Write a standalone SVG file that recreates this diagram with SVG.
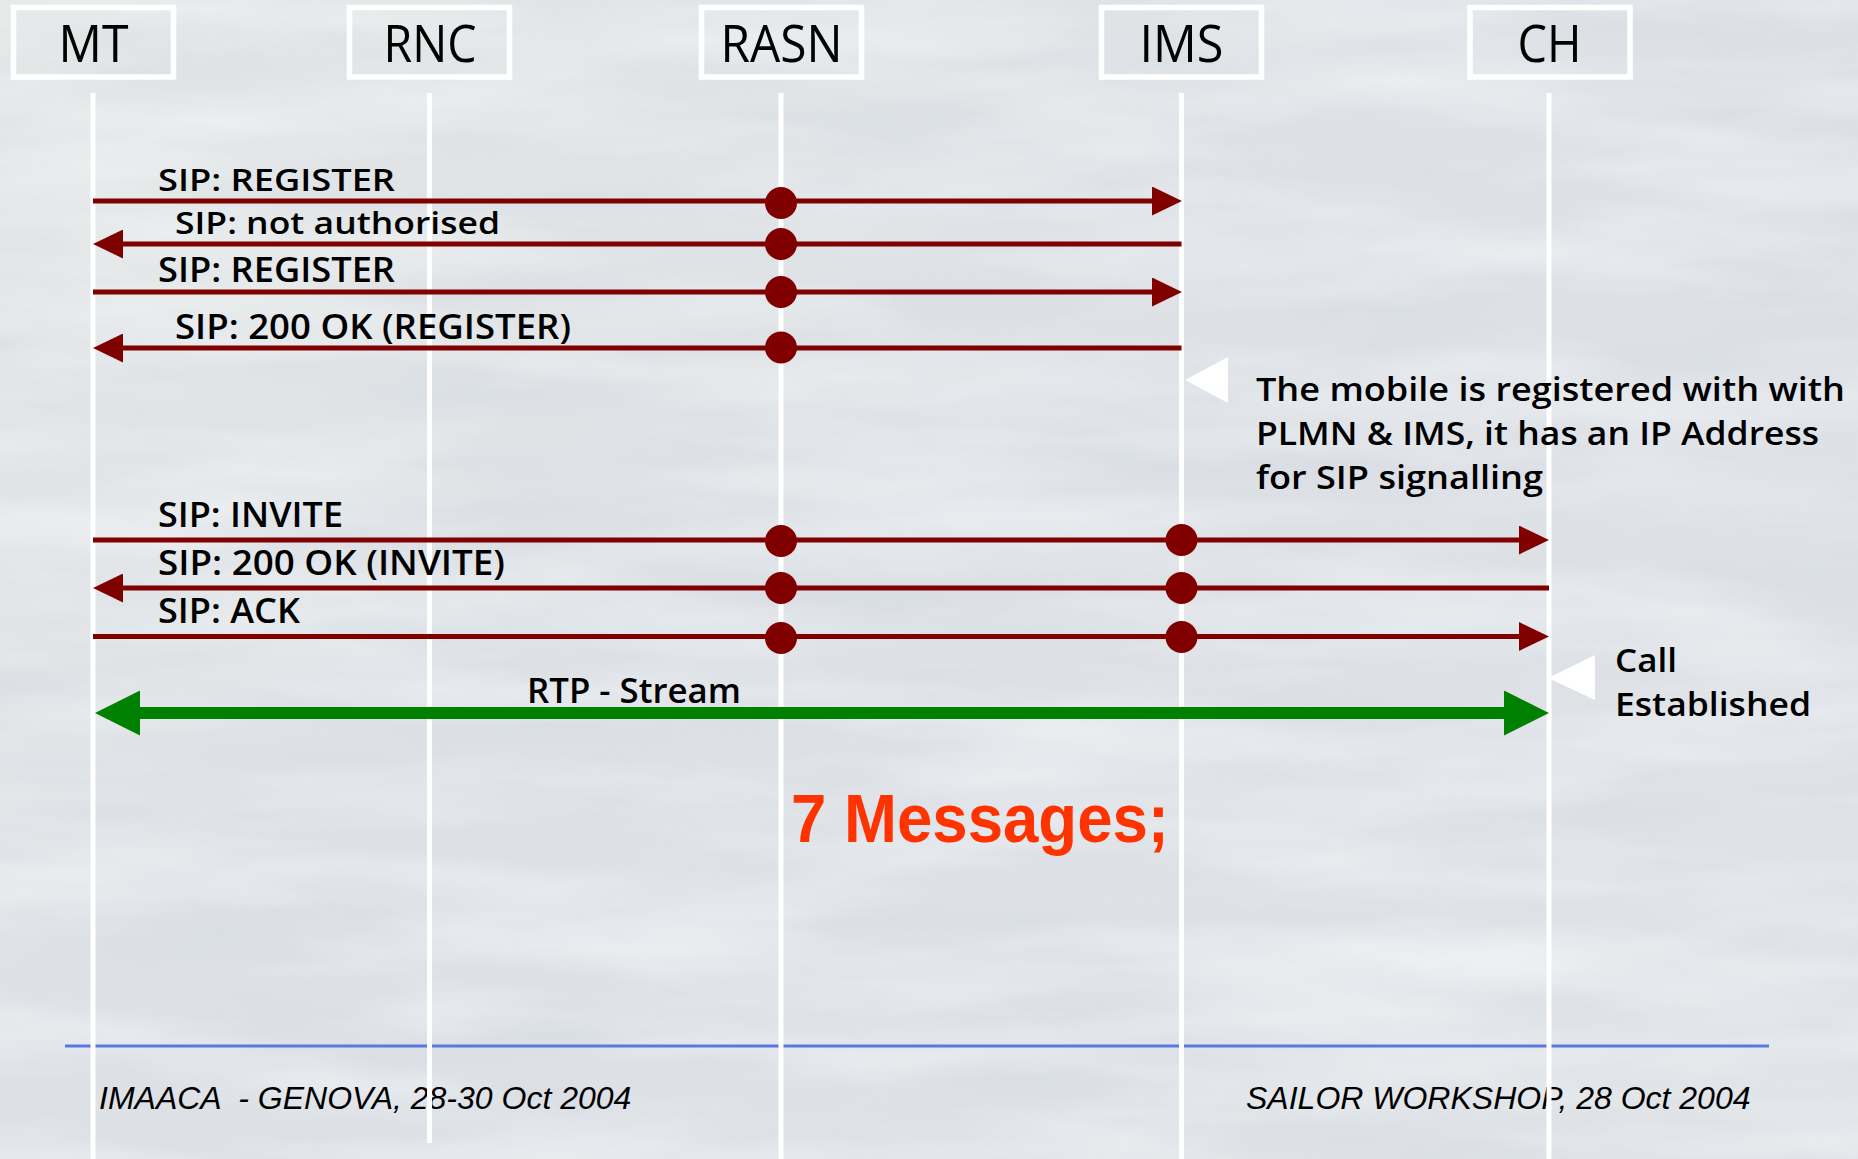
<svg xmlns="http://www.w3.org/2000/svg" width="1858" height="1159" viewBox="0 0 1858 1159">
  <style>
    .box { fill: none; stroke: #ffffff; stroke-width: 5.5; }
    .hdr { font-family: "Open Sans", "Noto Sans", "DejaVu Sans", sans-serif; font-size: 52px; fill: #000000; text-anchor: middle; }
    .life { stroke: #ffffff; stroke-width: 5; }
    .msg { stroke: #800000; stroke-width: 5; fill: none; marker-end: url(#redHead); }
    .dot { fill: #800000; }
    .rtp { stroke: #008000; stroke-width: 12; fill: none; marker-start: url(#greenHead); marker-end: url(#greenHead); }
    .lbl { font-family: "Open Sans", "Noto Sans", "DejaVu Sans", sans-serif; font-weight: 600; font-size: 34px; fill: #000000; }
    .lbl.tight { font-size: 31px; }
    .note { font-family: "Open Sans", "Noto Sans", "DejaVu Sans", sans-serif; font-weight: 600; font-size: 32px; fill: #000000; }
    .ptr { fill: #ffffff; }
    .foot { font-family: "Liberation Sans", Arial, sans-serif; font-style: italic; font-size: 32px; fill: #000000; }
    .count { font-family: "Liberation Sans", Arial, sans-serif; font-weight: bold; font-size: 68px; fill: #ff3300; }
  </style>
  <defs>
    <marker id="redHead" markerUnits="userSpaceOnUse" markerWidth="30" markerHeight="29" refX="5" refY="14.5" orient="auto">
      <path d="M0,0 L30,14.5 L0,29 Z" fill="#800000"/>
    </marker>
    <marker id="greenHead" markerUnits="userSpaceOnUse" markerWidth="45" markerHeight="45" refX="5" refY="22.5" orient="auto-start-reverse">
      <path d="M0,0 L45,22.5 L0,45 Z" fill="#008000"/>
    </marker>
    <linearGradient id="bgGrad" x1="0" y1="0" x2="1" y2="1">
      <stop offset="0" stop-color="#e2e6e6"/>
      <stop offset="0.5" stop-color="#dde1e6"/>
      <stop offset="1" stop-color="#dfe3e7"/>
    </linearGradient>
    <filter id="cloudLight" x="0" y="0" width="100%" height="100%">
      <feTurbulence type="fractalNoise" baseFrequency="0.0025 0.014" numOctaves="4" seed="7"/>
      <feColorMatrix type="matrix" values="0 0 0 0 1  0 0 0 0 1  0 0 0 0 1  1.3 0 0 0 -0.5"/>
    </filter>
    <filter id="cloudDark" x="0" y="0" width="100%" height="100%">
      <feTurbulence type="fractalNoise" baseFrequency="0.003 0.018" numOctaves="4" seed="23"/>
      <feColorMatrix type="matrix" values="0 0 0 0 0.55  0 0 0 0 0.6  0 0 0 0 0.7  1.1 0 0 0 -0.5"/>
    </filter>
  </defs>

  <!-- background with soft cloudy texture -->
  <g id="background">
    <rect x="0" y="0" width="1858" height="1159" fill="url(#bgGrad)"/>
    <rect x="0" y="0" width="1858" height="1159" filter="url(#cloudDark)" opacity="0.35"/>
    <rect x="0" y="0" width="1858" height="1159" filter="url(#cloudLight)" opacity="0.7"/>
  </g>

  <!-- footer -->
  <g id="footer">
    <line x1="65" y1="1046" x2="1769" y2="1046" stroke="#5a78e0" stroke-width="3"/>
    <text class="foot" x="99" y="1109" xml:space="preserve">IMAACA  - GENOVA, 28-30 Oct 2004</text>
    <text class="foot" x="1246" y="1109">SAILOR WORKSHOP, 28 Oct 2004</text>
  </g>

  <!-- lifelines -->
  <g id="lifelines">
    <line class="life" x1="93" y1="93" x2="93" y2="1159"/>
    <line class="life" x1="429.5" y1="93" x2="429.5" y2="1143"/>
    <line class="life" x1="781" y1="93" x2="781" y2="1159"/>
    <line class="life" x1="1181.5" y1="93" x2="1181.5" y2="1159"/>
    <line class="life" x1="1549" y1="93" x2="1549" y2="1159"/>
  </g>

  <!-- participants -->
  <g id="node-mt">
    <rect class="box" x="13.5" y="7.5" width="160" height="69.5"/>
    <text class="hdr" x="93.5" y="62" textLength="70" lengthAdjust="spacingAndGlyphs">MT</text>
  </g>
  <g id="node-rnc">
    <rect class="box" x="349.5" y="7.5" width="160" height="69.5"/>
    <text class="hdr" x="430" y="62" textLength="93" lengthAdjust="spacingAndGlyphs">RNC</text>
  </g>
  <g id="node-rasn">
    <rect class="box" x="701.5" y="7.5" width="160" height="69.5"/>
    <text class="hdr" x="781.5" y="62" textLength="122" lengthAdjust="spacingAndGlyphs">RASN</text>
  </g>
  <g id="node-ims">
    <rect class="box" x="1101.5" y="7.5" width="160" height="69.5"/>
    <text class="hdr" x="1181.5" y="62" textLength="84" lengthAdjust="spacingAndGlyphs">IMS</text>
  </g>
  <g id="node-ch">
    <rect class="box" x="1470" y="7.5" width="160" height="69.5"/>
    <text class="hdr" x="1549.5" y="62" textLength="64" lengthAdjust="spacingAndGlyphs">CH</text>
  </g>

  <!-- message arrows -->
  <g id="connectors">
    <line class="msg" x1="93" y1="201" x2="1157" y2="201"/>
    <line class="msg" x1="1181.5" y1="244" x2="118" y2="244"/>
    <line class="msg" x1="93" y1="292" x2="1157" y2="292"/>
    <line class="msg" x1="1181.5" y1="348" x2="118" y2="348"/>
    <line class="msg" x1="93" y1="540" x2="1524" y2="540"/>
    <line class="msg" x1="1549" y1="588" x2="118" y2="588"/>
    <line class="msg" x1="93" y1="636.5" x2="1524" y2="636.5"/>
    <line class="rtp" x1="135" y1="713" x2="1509" y2="713"/>

    <circle class="dot" cx="781" cy="203" r="16"/>
    <circle class="dot" cx="781" cy="244" r="16"/>
    <circle class="dot" cx="781" cy="292" r="16"/>
    <circle class="dot" cx="781" cy="347.5" r="16"/>
    <circle class="dot" cx="781" cy="541" r="16"/>
    <circle class="dot" cx="1181.5" cy="540" r="16"/>
    <circle class="dot" cx="781" cy="588" r="16"/>
    <circle class="dot" cx="1181.5" cy="588" r="16"/>
    <circle class="dot" cx="781" cy="638" r="16"/>
    <circle class="dot" cx="1181.5" cy="637" r="16"/>
  </g>

  <!-- message labels -->
  <g id="labels">
    <text class="lbl tight" x="158" y="191" textLength="237" lengthAdjust="spacingAndGlyphs">SIP: REGISTER</text>
    <text class="lbl tight" x="175" y="234" textLength="325" lengthAdjust="spacingAndGlyphs">SIP: not authorised</text>
    <text class="lbl" x="158" y="282" textLength="237" lengthAdjust="spacingAndGlyphs">SIP: REGISTER</text>
    <text class="lbl" x="175" y="339" textLength="396" lengthAdjust="spacingAndGlyphs">SIP: 200 OK (REGISTER)</text>
    <text class="lbl" x="158" y="527" textLength="185" lengthAdjust="spacingAndGlyphs">SIP: INVITE</text>
    <text class="lbl" x="158" y="575" textLength="347" lengthAdjust="spacingAndGlyphs">SIP: 200 OK (INVITE)</text>
    <text class="lbl" x="158" y="623" textLength="142" lengthAdjust="spacingAndGlyphs">SIP: ACK</text>
    <text class="lbl" x="527" y="703" textLength="214" lengthAdjust="spacingAndGlyphs">RTP - Stream</text>
  </g>

  <!-- annotations -->
  <g id="note-registered">
    <polygon class="ptr" points="1185,380 1228,357 1228,403"/>
    <text class="note" x="1256" y="401" textLength="589" lengthAdjust="spacingAndGlyphs">The mobile is registered with with</text>
    <text class="note" x="1256" y="445" textLength="563" lengthAdjust="spacingAndGlyphs">PLMN &amp; IMS, it has an IP Address</text>
    <text class="note" x="1256" y="489" textLength="287" lengthAdjust="spacingAndGlyphs">for SIP signalling</text>
  </g>
  <g id="note-call">
    <polygon class="ptr" points="1548,678 1595,655 1595,700"/>
    <text class="note" x="1615" y="672" textLength="62" lengthAdjust="spacingAndGlyphs">Call</text>
    <text class="note" x="1615" y="716" textLength="196" lengthAdjust="spacingAndGlyphs">Established</text>
  </g>

  <g id="summary">
    <text class="count" x="791" y="842" textLength="378" lengthAdjust="spacingAndGlyphs">7 Messages;</text>
  </g>
</svg>
